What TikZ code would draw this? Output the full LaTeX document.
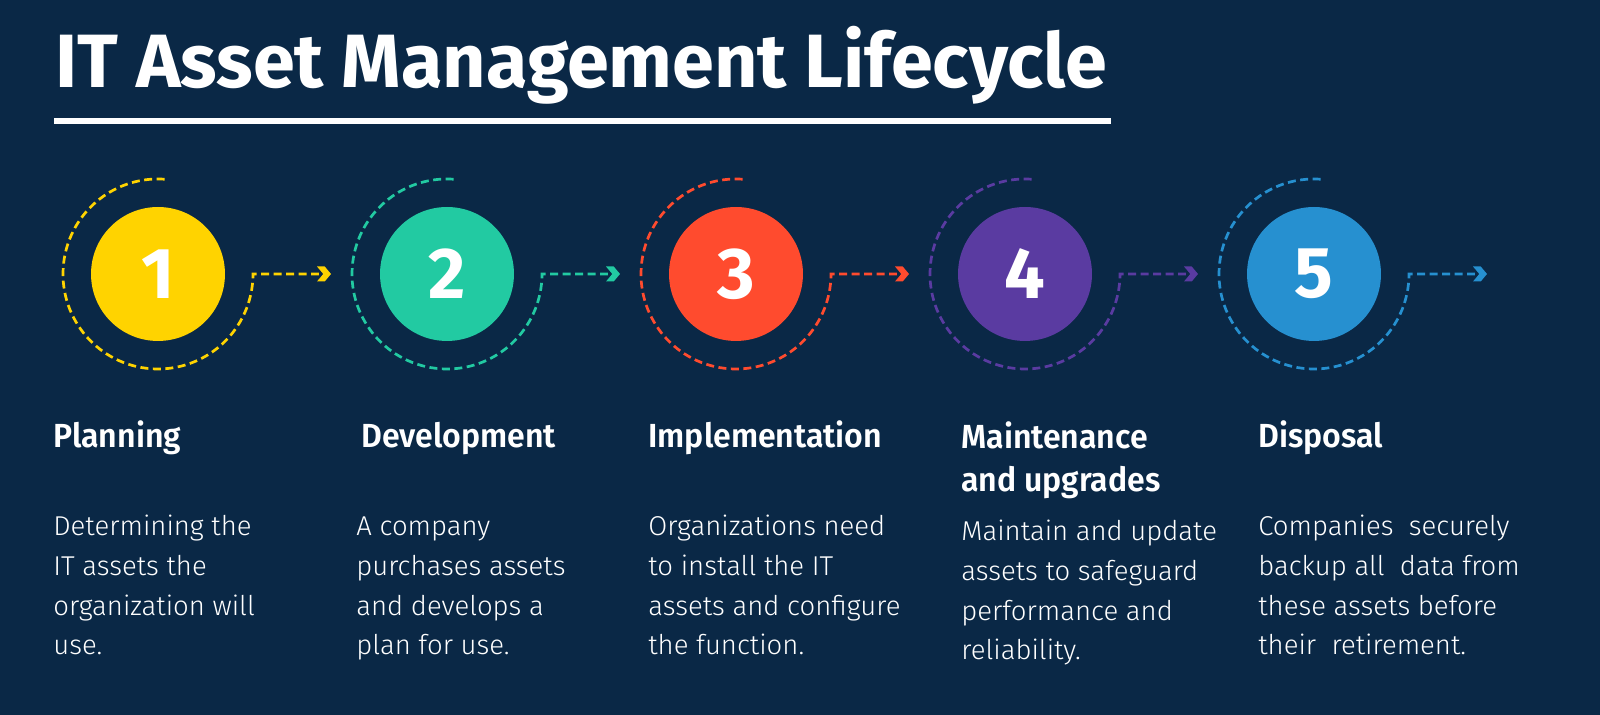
\documentclass[tikz,border=0pt]{standalone}
\usepackage{fontspec}
\setmainfont{Fira Sans}
\newfontfamily\titlefont{Fira Sans Bold}
\newfontfamily\headfont[FakeStretch=0.96]{Fira Sans SemiBold}
\newfontfamily\bodyfont[FakeStretch=1.01]{Fira Sans Light}
\newfontfamily\numfont{Fira Sans Bold}
\usetikzlibrary{shapes.symbols,calc}
\definecolor{navy}{HTML}{0A2846}
\definecolor{yel}{HTML}{FFD300}
\definecolor{grn}{HTML}{22CAA2}
\definecolor{red}{HTML}{FF4B2E}
\definecolor{pur}{HTML}{5A3BA1}
\definecolor{blu}{HTML}{2690D0}

\begin{document}
\begin{tikzpicture}[x=0.02cm,y=0.02cm,
  num/.style={circle,minimum size=2.68cm,inner sep=0,text=white,font=\numfont\fontsize{41}{41}\selectfont},
  chev/.style={signal,signal to=east,signal from=west,signal pointer angle=100,minimum width=0.28cm,minimum height=0.3cm,inner sep=0},
  ring/.style={line width=0.054cm,dash pattern=on 0.16cm off 0.09cm,shorten >=0.08cm},
  head/.style={anchor=base west,inner sep=0,align=left,text=white,font=\headfont\fontsize{19}{25}\selectfont},
  body/.style={anchor=base west,inner sep=0,align=left,text=white,font=\bodyfont\fontsize{15.5}{22.7}\selectfont}]
\fill[navy] (0,0) rectangle (1600,715);
\node[anchor=base west,inner sep=0,text=white,font=\titlefont\fontsize{43}{43}\selectfont] (title) at (55,627) {IT Asset Management Lifecycle};
\fill[white] (54,590.5) rectangle (1111,596.5);

\node[num,fill=yel] (c1) at (158,441) {1};
\node[num,fill=grn] (c2) at (447,441) {2};
\node[num,fill=red] (c3) at (736,441) {3};
\node[num,fill=pur] (c4) at (1025,441) {4};
\node[num,fill=blu] (c5) at (1314,441) {5};
\node[chev,fill=yel] (k1) at (324,441) {};
\node[chev,fill=grn] (k2) at (613,441) {};
\node[chev,fill=red] (k3) at (902,441) {};
\node[chev,fill=pur] (k4) at (1191,441) {};
\node[chev,fill=blu] (k5) at (1480,441) {};
\draw[ring,yel] ($(c1)+(86:95)$) arc[start angle=86,end angle=360,radius=95] -- (k1.west);
\draw[ring,grn] ($(c2)+(86:95)$) arc[start angle=86,end angle=360,radius=95] -- (k2.west);
\draw[ring,red] ($(c3)+(86:95)$) arc[start angle=86,end angle=360,radius=95] -- (k3.west);
\draw[ring,pur] ($(c4)+(86:95)$) arc[start angle=86,end angle=360,radius=95] -- (k4.west);
\draw[ring,blu] ($(c5)+(86:95)$) arc[start angle=86,end angle=360,radius=95] -- (k5.west);

% base of a multi-line node is its last line
\node[head] (h1) at (53,267) {Planning};
\node[head] (h2) at (361,267) {Development};
\node[head] (h3) at (648,267) {Implementation};
\node[head] (h4) at (961,223) {Maintenance\\and upgrades};
\node[head] (h5) at (1258,267) {Disposal};

\node[body] (t1) at (53,60) {Determining the\\IT assets the\\organization will\\use.};
\node[body] (t2) at (356,60) {A company\\purchases assets\\and develops a\\plan for use.};
\node[body] (t3) at (648,60) {Organizations need\\to install the IT\\assets and configure\\the function.};
\node[body] (t4) at (961,55) {Maintain and update\\assets to safeguard\\performance and\\reliability.};
\node[body] (t5) at (1258,60) {Companies\ \ securely\\backup all\ \ data from\\these assets before\\their\ \ retirement.};
\end{tikzpicture}
\end{document}
